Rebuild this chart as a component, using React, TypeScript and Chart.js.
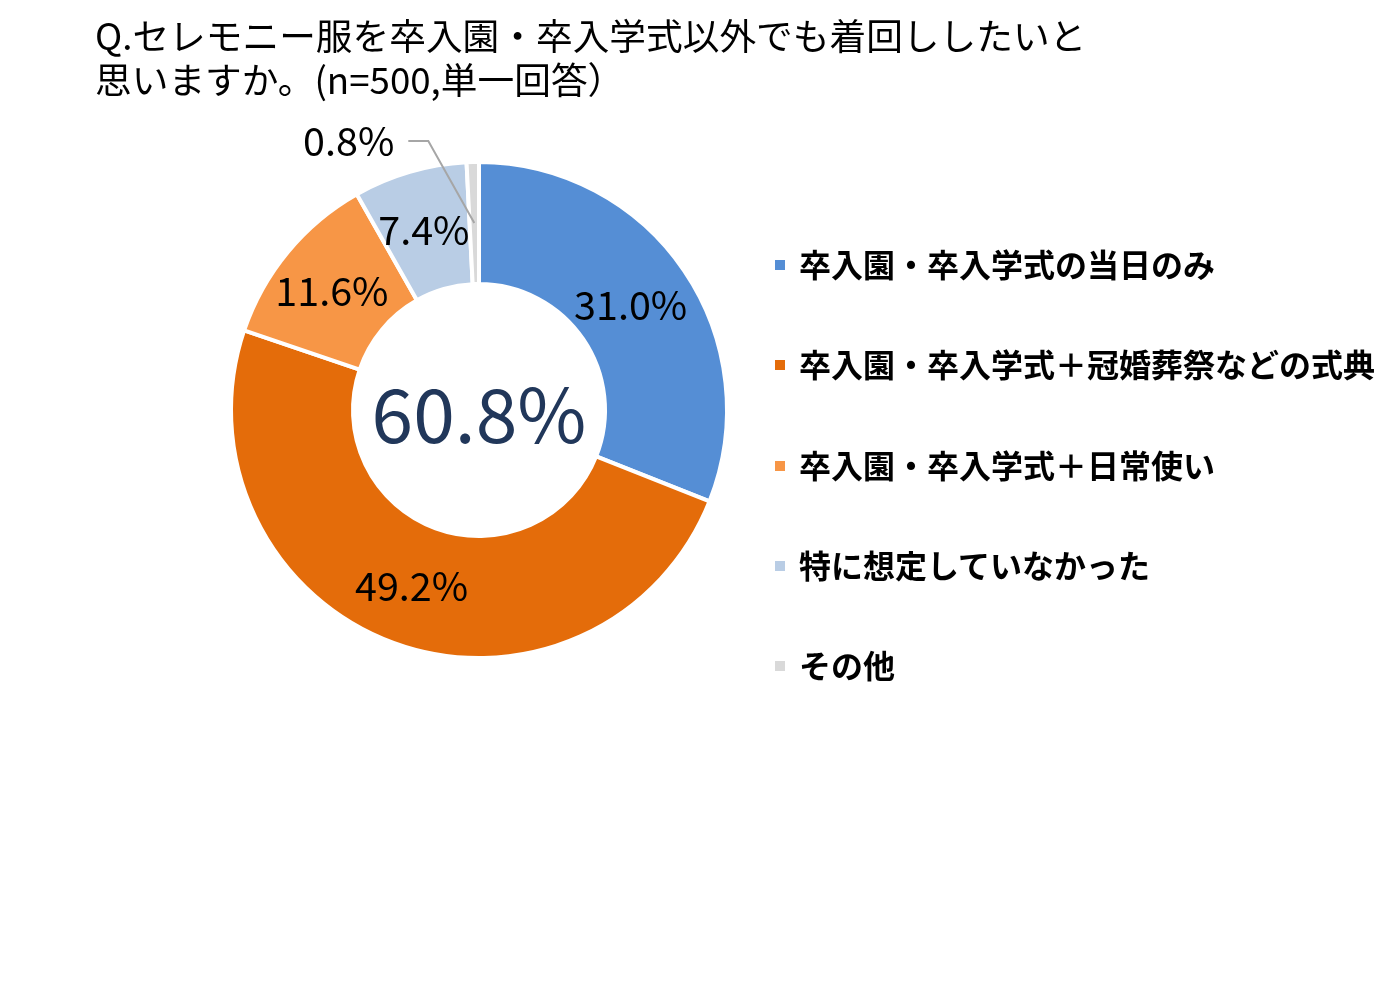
import React, { useEffect, useRef } from "react";
import { Chart, registerables } from "chart.js";

Chart.register(...registerables);

const titleLines = [
  "Q.セレモニー服を卒入園・卒入学式以外でも着回ししたいと",
  "思いますか。(n=500,単一回答）",
];
const categories = [
  "卒入園・卒入学式の当日のみ",
  "卒入園・卒入学式＋冠婚葬祭などの式典",
  "卒入園・卒入学式＋日常使い",
  "特に想定していなかった",
  "その他",
];
const values = [31.0, 49.2, 11.6, 7.4, 0.8];
const sliceColors = ["#558ED5", "#E46C0A", "#F79646", "#B9CDE5", "#D9D9D9"];
const centerLabel = "60.8%";

const JP = '"Noto Sans CJK JP", "Noto Sans", sans-serif';

const labelPlugin = {
  id: "sliceLabels",
  afterDatasetsDraw(chart: any) {
    const ctx = chart.ctx as CanvasRenderingContext2D;
    const meta = chart.getDatasetMeta(0);
    ctx.save();
    meta.data.forEach((arc: any, i: number) => {
      const { x, y, startAngle, endAngle, innerRadius, outerRadius } = arc.getProps(
        ["x", "y", "startAngle", "endAngle", "innerRadius", "outerRadius"],
        true
      );
      const mid = (startAngle + endAngle) / 2;
      const r = (innerRadius + outerRadius) / 2;
      const px = x + Math.cos(mid) * r;
      const py = y + Math.sin(mid) * r;
      const text = values[i].toFixed(1) + "%";
      ctx.fillStyle = "#000";
      ctx.font = `39.5px ${JP}`;
      ctx.textBaseline = "middle";
      if (i === values.length - 1) {
        const ex = px - 46;
        const ey = py - 82;
        ctx.strokeStyle = "#A6A6A6";
        ctx.lineWidth = 2;
        ctx.beginPath();
        ctx.moveTo(px, py);
        ctx.lineTo(ex, ey);
        ctx.lineTo(ex - 20, ey);
        ctx.stroke();
        ctx.textAlign = "right";
        ctx.fillText(text, ex - 34, ey);
      } else {
        ctx.textAlign = "center";
        ctx.fillText(text, px - 3, py);
      }
    });
    const a0 = meta.data[0];
    ctx.fillStyle = "#21375A";
    ctx.font = `75px ${JP}`;
    ctx.textAlign = "center";
    ctx.textBaseline = "middle";
    ctx.fillText(centerLabel, a0.x, a0.y + 4);
    ctx.restore();
  },
};

export default function App() {
  const ref = useRef<HTMLCanvasElement | null>(null);
  useEffect(() => {
    if (!ref.current) return;
    const chart = new Chart(ref.current, {
      type: "doughnut",
      data: {
        labels: categories,
        datasets: [
          {
            data: values,
            backgroundColor: sliceColors,
            borderColor: "#FFFFFF",
            borderWidth: 4,
          },
        ],
      },
      options: {
        responsive: false,
        maintainAspectRatio: false,
        animation: false,
        radius: 248,
        cutout: 126,
        layout: { padding: { left: 229, top: 160, right: 668, bottom: 339 } },
        plugins: {
          legend: { display: false },
          tooltip: { enabled: false },
          title: { display: false },
        },
      } as any,
      plugins: [labelPlugin],
    });
    return () => chart.destroy();
  }, []);

  return (
    <div style={{ position: "absolute", left: 0, top: 0, width: 1397, height: 999, background: "#fff" }}>
      <canvas ref={ref} width={1397} height={999} style={{ position: "absolute", left: 0, top: 0, width: 1397, height: 999 }} />
      <div
        style={{
          position: "absolute",
          left: 95,
          top: 12,
          fontFamily: JP,
          fontSize: 36.7,
          lineHeight: "44px",
          color: "#000",
          whiteSpace: "nowrap",
        }}
      >
        {titleLines.map((t, i) => (
          <div key={i}>{t}</div>
        ))}
      </div>
      {categories.map((c, i) => (
        <div
          key={i}
          style={{
            position: "absolute",
            left: 775,
            top: 263 + i * 100.3 - 16,
            height: 32,
            display: "flex",
            alignItems: "center",
            whiteSpace: "nowrap",
          }}
        >
          <span style={{ display: "inline-block", width: 10, height: 10, background: sliceColors[i], marginRight: 14, marginTop: 4 }} />
          <span style={{ fontFamily: JP, fontSize: 32, fontWeight: 700, lineHeight: "32px", color: "#000" }}>{c}</span>
        </div>
      ))}
    </div>
  );
}
